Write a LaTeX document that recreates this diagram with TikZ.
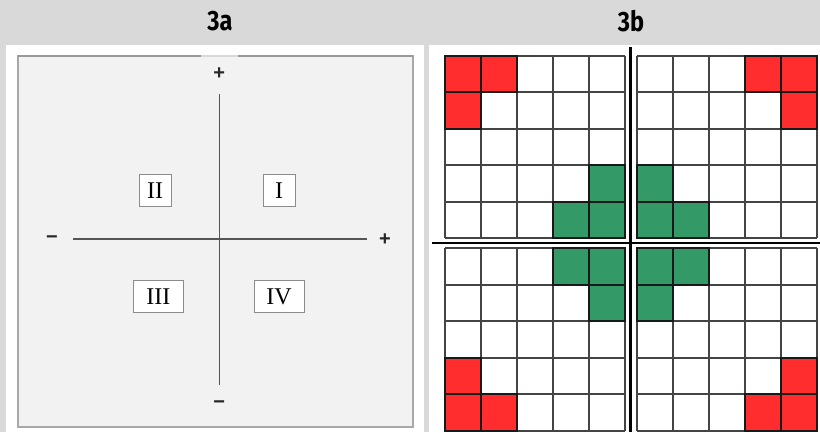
\documentclass[tikz,border=0pt]{standalone}
\usepackage{fontspec}
\usepackage{graphicx}
\setmainfont{Liberation Serif}
\newfontfamily\titlefont{Fira Sans}
\newfontfamily\signfont{Liberation Sans}
\definecolor{bgc}{HTML}{D9D9D9}
\definecolor{panelc}{HTML}{F2F2F2}
\definecolor{borderc}{HTML}{A8A8A8}
\definecolor{axisc}{HTML}{555555}
\definecolor{redc}{HTML}{FF2D2D}
\definecolor{greenc}{HTML}{339966}
\definecolor{gridc}{HTML}{444444}
\newcommand\mygrid[4]{%
  \foreach \r/\c in {#3} \fill[redc] ({#1+\c*36},{#2+\r*36.5}) rectangle ++(36,36.5);
  \foreach \r/\c in {#4} \fill[greenc] ({#1+\c*36},{#2+\r*36.5}) rectangle ++(36,36.5);
  \foreach \i in {0,...,5} {
    \draw[gridline] ({#1+\i*36},#2) -- ({#1+\i*36},{#2+182.5});
    \draw[gridline] (#1,{#2+\i*36.5}) -- ({#1+180},{#2+\i*36.5});
  }
  \foreach \r/\c in {#3,#4} \draw[cellline] ({#1+\c*36},{#2+\r*36.5}) rectangle ++(36,36.5);
}
\begin{document}
\begin{tikzpicture}[x=1pt,y=-1pt,
  title/.style={font=\titlefont\bfseries\fontsize{28}{28}\selectfont, inner sep=0},
  sign/.style={font=\signfont\bfseries\fontsize{20}{20}\selectfont, text=black!85, inner sep=0},
  quad/.style={draw=black!45, line width=1pt, fill=white, minimum height=32pt, inner sep=0,
    font=\fontsize{24}{24}\selectfont},
  axis/.style={draw=axisc, line width=1.4pt},
  gridline/.style={draw=gridc, line width=2pt},
  cellline/.style={draw=black!90, line width=2pt},
  sep/.style={draw=black, line width=2.6pt}]
\useasboundingbox (0,0) rectangle (820,432);
% backgrounds
\fill[bgc] (0,0) rectangle (820,432);
\fill[white] (6,45) rectangle (424,432);
\fill[white] (429,45) rectangle (820,432);
% titles
\node[title] (ta) at (220,21) {\scalebox{0.84}[1]{3a}};
\node[title] (tb) at (631,21) {\scalebox{0.84}[1]{3b}};
% panel 3a
\filldraw[fill=panelc, draw=borderc, line width=1.2pt] (18,56) rectangle (413,427);
\draw[draw=black!40, line width=1.4pt] (18,56) -- (201,56) (238,56) -- (413,56);
\draw[draw=black!15, line width=1.4pt] (201,56) -- (238,56);
\coordinate (vt) at (219.3,94);
\coordinate (vb) at (219.3,385);
\coordinate (hl) at (73,239);
\coordinate (hr) at (367,239);
\draw[axis] (vt) -- (vb);
\draw[axis] (hl) -- (hr);
\node[sign] (pt) at (219.3,74) {+};
\node[sign] (mb) at (219.3,405) {−};
\node[sign] (ml) at (52,240) {−};
\node[sign] (pr) at (385,240) {+};
\node[quad, minimum width=32pt] (q2) at (155.2,190.2) {II};
\node[quad, minimum width=32pt] (q1) at (279.2,190.2) {I};
\node[quad, minimum width=50pt] (q3) at (158.3,296.5) {III};
\node[quad, minimum width=50pt] (q4) at (279,296.5) {IV};
% panel 3b
\mygrid{445}{55.8}{0/0,0/1,1/0}{3/4,4/3,4/4}
\mygrid{636.7}{55.8}{0/3,0/4,1/4}{3/0,4/0,4/1}
\mygrid{445}{248.3}{3/0,4/0,4/1}{0/3,0/4,1/4}
\mygrid{636.7}{248.3}{3/4,4/3,4/4}{0/0,0/1,1/0}
\draw[white, line width=7pt] (630.5,48) -- (630.5,432);
\draw[white, line width=7pt] (432,243) -- (820,243);
\draw[sep] (630.5,47) -- (630.5,432);
\draw[sep] (432,243) -- (820,243);
\end{tikzpicture}
\end{document}
